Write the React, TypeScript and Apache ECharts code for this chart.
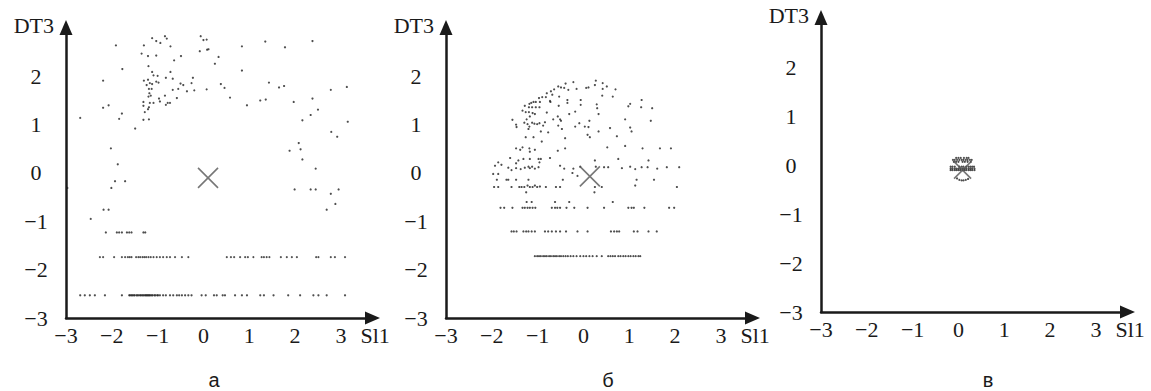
import React, { useEffect, useRef } from "react";
import * as echarts from "echarts";

const SERIF = "Liberation Serif";
const SANS = "Liberation Sans";
const INK = "#1a1a1a";

const xTicks = [-3, -2, -1, 0, 1, 2, 3];
const yTicks = [-3, -2, -1, 0, 1, 2];
const panelLabels = ["а", "б", "в"];
const axisXName = "Sl1";
const axisYName = "DT3";

// ---------- panel а ----------
const aCross: [number, number] = [0.1, -0.1];
const aCloud: [number, number][] = [
  [-1.91, 2.64], [-1.77, 2.15], [-2.19, 1.91], [-2.19, 1.35], [-2.07, 1.4], [-2.69, 1.14], [-1.78, 1.23], [-1.84, 1.12],
  [-1.12, 2.79], [-1.03, 2.73], [-0.94, 2.69], [-0.84, 2.83], [-0.8, 2.78], [-0.72, 2.62], [-1.3, 2.64], [-1.35, 2.47],
  [-1.21, 2.42], [-1.03, 2.43], [-1.2, 2.21], [-1.12, 2.09], [-1.09, 2.02], [-1.0, 2.01], [-0.82, 1.97], [-0.72, 2.09],
  [-0.67, 1.95], [-1.3, 1.91], [-1.21, 1.93], [-1.24, 1.82], [-1.17, 1.86], [-1.12, 1.84], [-0.98, 1.87], [-1.03, 1.89],
  [-1.19, 1.74], [-1.13, 1.74], [-1.18, 1.65], [-1.2, 1.58], [-1.15, 1.6], [-1.31, 1.47], [-1.31, 1.39], [-1.19, 1.36],
  [-1.21, 1.32], [-1.17, 1.45], [-1.09, 1.45], [-1.28, 1.26], [-0.97, 1.54], [-0.95, 1.48], [-0.84, 1.6], [-0.82, 1.41],
  [-0.78, 1.45], [-0.73, 1.45], [-0.58, 1.55], [-0.67, 1.72], [-0.55, 1.74], [-0.5, 1.85], [-0.44, 1.82], [-0.36, 1.69],
  [-0.26, 1.86], [-0.23, 1.97], [-0.2, 1.71], [-0.64, 2.33], [-0.49, 2.42], [-0.08, 2.52], [0.08, 2.55], [0.11, 2.56],
  [0.0, 2.75], [0.07, 2.76], [-0.06, 2.83], [0.33, 2.4], [0.25, 2.26], [0.07, 1.73], [0.38, 1.84], [0.46, 1.76],
  [0.58, 1.56], [0.84, 2.62], [0.84, 2.12], [0.95, 1.4], [1.24, 1.5], [1.36, 1.52], [1.35, 2.72], [1.78, 2.6],
  [1.43, 1.87], [1.65, 1.77], [1.76, 1.8], [1.97, 1.47], [2.38, 2.73], [2.38, 1.54], [2.5, 1.31], [2.34, 1.2],
  [2.16, 1.09], [2.78, 1.72], [3.13, 1.78], [3.15, 1.06], [-1.31, 1.1], [-1.19, 1.11], [-1.49, 0.92], [-2.02, 0.51],
  [-1.87, 0.18], [-1.93, -0.17], [-1.71, -0.17], [-2.01, -0.31], [-2.97, -0.31], [-2.18, -0.76], [-2.07, -0.76],
  [-2.46, -0.95], [2.79, 0.85], [2.92, 0.75], [2.08, 0.62], [1.88, 0.46], [2.12, 0.49], [2.16, 0.28], [2.45, 0.09],
  [1.99, -0.34], [2.34, -0.34], [2.45, -0.34], [2.95, -0.34], [2.78, -0.43], [2.88, -0.64], [2.69, -0.76],
];
const aRowLevels = [-1.23, -1.74, -2.53];
const aRow1X = [-2.13, -1.89, -1.84, -1.78, -1.67, -1.62, -1.57, -1.31, -1.27];
const aRow2X = [
  -2.26, -2.19, -1.95, -1.78, -1.71, -1.65, -1.61, -1.57, -1.47, -1.42, -1.38, -1.33, -1.29, -1.25, -1.2, -1.15,
  -1.09, -1.02, -0.95, -0.88, -0.8, -0.73, -0.62, -0.47, -0.33, 0.51, 0.6, 0.67, 0.8, 0.91, 0.97, 1.09, 1.27, 1.32,
  1.38, 1.44, 1.69, 1.82, 1.93, 2.04, 2.46, 2.51, 2.78, 2.87, 3.09,
];
const aRow3X = [
  -2.69, -2.59, -2.48, -2.37, -2.15, -1.78, -1.62, -1.6, -1.57, -1.55, -1.52, -1.5, -1.46, -1.44, -1.41, -1.38,
  -1.36, -1.33, -1.31, -1.28, -1.26, -1.24, -1.22, -1.2, -1.18, -1.16, -1.13, -1.11, -1.07, -1.05, -1.01, -0.99,
  -0.95, -0.88, -0.82, -0.73, -0.66, -0.58, -0.53, -0.47, -0.4, -0.33, -0.26, -0.04, 0.05, 0.23, 0.29, 0.42, 0.47,
  0.69, 0.84, 0.95, 1.24, 1.32, 1.53, 1.85, 2.11, 2.4, 2.51, 2.69, 3.09,
];

// ---------- panel б ----------
const bCross: [number, number] = [0.14, -0.07];
const bCloud: [number, number][] = [
  [-0.55, 1.79], [-0.49, 1.77], [-0.42, 1.76], [-0.64, 1.73], [-0.71, 1.69], [-0.8, 1.65], [-0.68, 1.62], [-0.39, 1.85],
  [-0.22, 1.88], [-0.33, 1.72], [-0.15, 1.74], [0.06, 1.76], [0.11, 1.77], [0.25, 1.82], [0.27, 1.91], [0.42, 1.86],
  [0.51, 1.79], [0.42, 1.74], [0.7, 1.73], [0.41, 1.6], [0.64, 1.58], [-0.9, 1.57], [-0.97, 1.55], [-0.82, 1.57],
  [-0.73, 1.49], [-0.72, 1.47], [-0.95, 1.47], [-1.04, 1.47], [-1.09, 1.47], [-1.14, 1.45], [-1.18, 1.43], [-1.28, 1.39],
  [-1.19, 1.36], [-1.12, 1.36], [-1.04, 1.36], [-0.96, 1.36], [-0.35, 1.51], [-0.35, 1.45], [-0.53, 1.58], [-0.06, 1.51],
  [-0.06, 1.41], [0.29, 1.42], [0.3, 1.34], [0.33, 1.22], [-0.18, 1.27], [-0.31, 1.22], [-0.54, 1.39], [1.02, 1.43],
  [0.98, 1.38], [1.27, 1.51], [1.26, 1.36], [1.5, 1.34], [-1.33, 1.29], [-1.26, 1.26], [-1.19, 1.26], [-1.17, 1.17],
  [-1.24, 1.11], [-0.8, 1.25], [-1.11, 1.24], [-1.06, 1.22], [-1.55, 1.1], [-1.47, 1.0], [-1.46, 0.95], [-1.29, 1.04],
  [-1.22, 1.01], [-1.18, 0.96], [-1.2, 0.91], [-1.12, 1.04], [-1.07, 1.02], [-1.01, 1.01], [-0.96, 1.03], [-0.84, 1.05],
  [-0.88, 0.98], [-0.66, 1.11], [-0.56, 1.17], [-0.51, 1.11], [-0.49, 1.08], [-0.55, 0.98], [-0.47, 0.91], [-0.18, 0.96],
  [-0.09, 1.03], [0.03, 0.96], [0.11, 0.95], [0.13, 1.08], [0.33, 0.86], [0.58, 0.93], [0.91, 1.11], [1.02, 0.94],
  [1.05, 0.86], [1.47, 1.08], [-0.93, 0.86], [-0.77, 0.84], [0.09, 0.79], [0.14, 0.74], [0.73, 0.76], [-1.26, 0.74],
  [-1.09, 0.74], [-0.91, 0.65], [-0.4, 0.72], [-1.47, 0.51], [-1.38, 0.48], [-1.33, 0.53], [-1.18, 0.51], [-1.17, 0.44],
  [-1.06, 0.48], [-0.56, 0.46], [-0.4, 0.51], [0.52, 0.53], [0.91, 0.56], [1.29, 0.51], [1.67, 0.51], [1.91, 0.51],
  [-1.6, 0.31], [-1.47, 0.2], [-1.42, 0.26], [-1.31, 0.29], [-1.17, 0.29], [-0.98, 0.29], [-0.93, 0.29], [-0.96, 0.22],
  [-0.73, 0.31], [-1.86, 0.22], [-1.93, 0.15], [-1.79, 0.17], [-1.64, 0.11], [-1.57, 0.06], [-1.47, 0.1], [-1.37, 0.08],
  [-1.28, 0.11], [-1.2, 0.13], [-1.17, 0.1], [-1.12, 0.13], [-1.06, 0.09], [-0.98, 0.12], [-0.51, 0.15], [-0.42, 0.09],
  [-0.22, 0.09], [-0.07, 0.13], [0.25, 0.26], [0.27, 0.13], [0.45, 0.12], [0.54, 0.12], [0.76, 0.29], [0.84, 0.1],
  [1.02, 0.13], [1.13, 0.08], [1.27, 0.12], [1.4, 0.12], [1.42, 0.26], [1.61, 0.09], [1.82, 0.12], [2.09, 0.12],
  [-1.97, -0.02], [-1.86, -0.02], [-0.24, 0.0], [-0.13, -0.06], [-1.22, -0.26], [-1.06, -0.26], [-0.95, -0.28],
  [1.13, -0.26], [-1.25, -0.4], [0.24, -0.4],
];
const bRowLevels = [-0.14, -0.29, -0.6, -0.72, -1.21, -1.72];
const bRow1X = [-1.89, -1.68, -1.64, -1.47, -1.2, -0.45, 1.16, 1.54];
const bRow2X = [-1.95, -1.86, -1.57, -1.4, -1.35, -1.29, -1.17, -1.11, -1.01, -0.82, -0.6, -0.51, 0.25, 0.4, 2.04];
const bRow3X = [-1.24, -1.13, -0.62, -0.31, 0.64];
const bRow4X = [
  -1.81, -1.73, -1.55, -1.33, -1.28, -1.22, -1.17, -1.11, -1.05, -0.69, -0.62, -0.57, -0.51, -0.37, -0.2, 0.09, 0.45,
  0.98, 1.05, 1.1, 1.33, 1.87, 1.98,
];
const bRow5X = [
  -1.57, -1.52, -1.46, -1.31, -1.25, -1.2, -1.13, -1.06, -0.84, -0.77, -0.69, -0.6, -0.51, -0.38, -0.13, 0.09, 0.6,
  0.67, 0.73, 0.78, 1.1, 1.18, 1.42, 1.6,
];
const bRow6X = [
  -1.06, -1.01, -0.97, -0.93, -0.88, -0.84, -0.8, -0.75, -0.71, -0.66, -0.62, -0.58, -0.53, -0.49, -0.44, -0.39,
  -0.34, -0.28, -0.22, -0.15, -0.07, 0.0, 0.06, 0.13, 0.2, 0.29, 0.4, 0.54, 0.59, 0.64, 0.69, 0.76, 0.81, 0.87, 0.92,
  0.98, 1.03, 1.09, 1.14, 1.2, 1.24,
];

// ---------- panel в ----------
const cCross: [number, number] = [0.09, -0.1];
const cRowLevels = [0.15, 0.11, 0.07, -0.03, -0.07, -0.1];
const cRow1X = [-0.05, 0.0, 0.05, 0.12, 0.18, 0.22];
const cRow2X = [-0.12, -0.08, -0.03, 0.02, 0.07, 0.11, 0.16, 0.2, 0.25, 0.29];
const cRow3X = [-0.1, -0.05, 0.0, 0.09, 0.14, 0.2, 0.27];
const cRow4X = [-0.17, -0.13, -0.08, 0.02, 0.07, 0.11, 0.17, 0.22, 0.26, 0.3, 0.34];
const cRow5X = [-0.17, -0.13, -0.08, -0.04, 0.0, 0.04, 0.09, 0.13, 0.17, 0.22, 0.26, 0.3, 0.35];
const cRow6X = [-0.17, -0.13, -0.08, -0.04, 0.0, 0.04, 0.09, 0.13, 0.17, 0.22, 0.26, 0.3, 0.35];
const cArc: [number, number][] = [
  [-0.03, -0.27], [0.02, -0.3], [0.07, -0.31], [0.11, -0.31], [0.16, -0.3], [0.21, -0.28],
];

const rows = (levels: number[], lists: number[][]) =>
  lists.flatMap((xs, i) => xs.map((x) => [x, levels[i]] as [number, number]));

const fmt = (v: number) => (v < 0 ? "\u2212" + Math.abs(v) : String(v));

const textBase = { fontFamily: SERIF, fontSize: 22, color: INK };

const makeX = (gridIndex: number, max: number) => ({
  type: "value",
  gridIndex,
  min: -3,
  max,
  name: axisXName,
  nameLocation: "end",
  nameGap: -12,
  nameTextStyle: { ...textBase, align: "left", verticalAlign: "top", padding: [6, 0, 0, 0] },
  axisLine: {
    show: true,
    onZero: false,
    symbol: ["none", "triangle"],
    symbolSize: [13, 15],
    lineStyle: { color: INK, width: 2.5 },
  },
  axisTick: { show: false },
  splitLine: { show: false },
  axisLabel: { ...textBase, customValues: xTicks, formatter: fmt, margin: 6 },
});

const makeY = (gridIndex: number, max: number) => ({
  type: "value",
  gridIndex,
  min: -3,
  max,
  name: axisYName,
  nameLocation: "end",
  nameGap: 2,
  nameTextStyle: { ...textBase, align: "right", verticalAlign: "middle", padding: [0, 12, 0, 0] },
  axisLine: {
    show: true,
    onZero: false,
    symbol: ["none", "triangle"],
    symbolSize: [13, 15],
    lineStyle: { color: INK, width: 2.5 },
  },
  axisTick: { show: false },
  splitLine: { show: false },
  axisLabel: { ...textBase, customValues: yTicks, formatter: fmt, margin: 30, align: "center" },
});

const dots = (idx: number, data: [number, number][]) => ({
  type: "scatter",
  xAxisIndex: idx,
  yAxisIndex: idx,
  data,
  symbol: "circle",
  symbolSize: 2.2,
  itemStyle: { color: "#222" },
  silent: true,
});

const cross = (idx: number, p: [number, number], size: number) => ({
  type: "scatter",
  xAxisIndex: idx,
  yAxisIndex: idx,
  data: [p],
  symbol: "path://M0,0L10,10M10,0L0,10",
  symbolSize: size,
  itemStyle: { color: "transparent", borderColor: "#555", borderWidth: 1.6 },
  silent: true,
  z: 3,
});

const titlePos = [214, 608, 988];

const option = {
  animation: false,
  backgroundColor: "#fff",
  title: panelLabels.map((t, i) => ({
    text: t,
    left: titlePos[i],
    top: 370,
    padding: 0,
    textAlign: "center",
    textStyle: { fontFamily: SANS, fontSize: 20, fontWeight: "normal", color: INK },
  })),
  grid: [
    { left: 66, top: 27.5, width: 306.5, height: 290.5 },
    { left: 446, top: 27.5, width: 306.5, height: 290.5 },
    { left: 821, top: 17.5, width: 306.5, height: 294.5 },
  ],
  xAxis: [makeX(0, 3.69), makeX(1, 3.69), makeX(2, 3.69)],
  yAxis: [makeY(0, 3.01), makeY(1, 3.01), makeY(2, 3.02)],
  series: [
    dots(0, aCloud),
    dots(0, rows(aRowLevels, [aRow1X, aRow2X, aRow3X])),
    cross(0, aCross, 20),
    dots(1, bCloud),
    dots(1, rows(bRowLevels, [bRow1X, bRow2X, bRow3X, bRow4X, bRow5X, bRow6X])),
    cross(1, bCross, 20),
    dots(2, rows(cRowLevels, [cRow1X, cRow2X, cRow3X, cRow4X, cRow5X, cRow6X])),
    dots(2, cArc),
    cross(2, cCross, 17),
  ],
};

export default function App() {
  const ref = useRef<HTMLDivElement>(null);
  useEffect(() => {
    if (!ref.current) return;
    const chart = echarts.init(ref.current, null, { renderer: "svg" });
    chart.setOption(option as any);
    return () => chart.dispose();
  }, []);
  return (
    <div
      ref={ref}
      style={{ position: "absolute", left: 0, top: 0, width: 1151, height: 391, background: "#fff" }}
    />
  );
}
